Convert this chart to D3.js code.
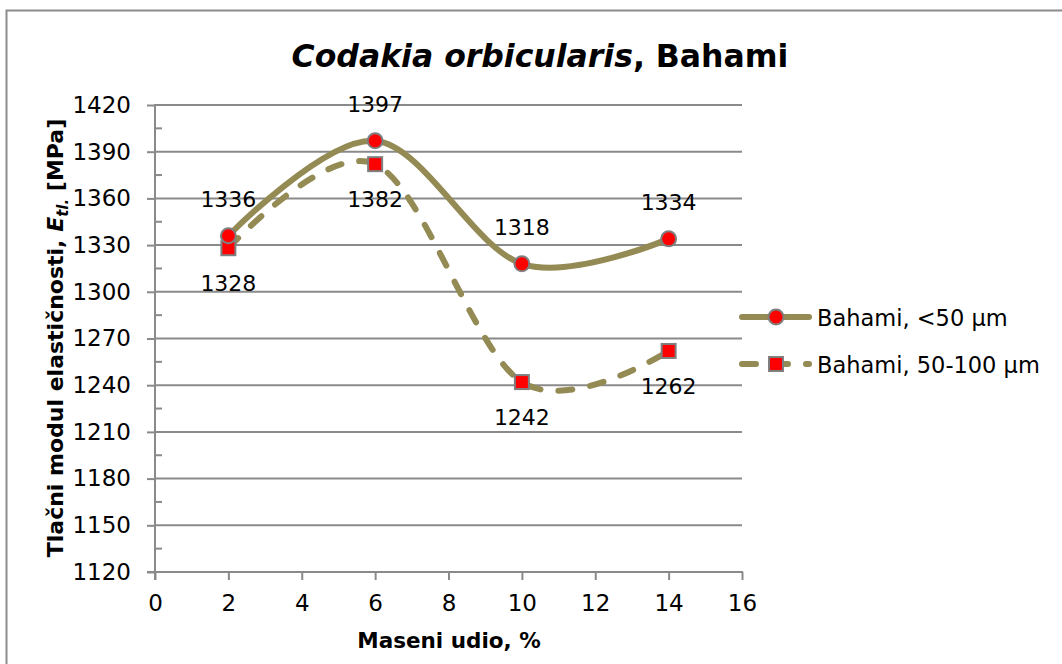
<!DOCTYPE html>
<html>
<head>
<meta charset="utf-8">
<script src="https://cdn.jsdelivr.net/npm/d3@7"></script>
<style>
  html, body { margin: 0; padding: 0; background: #fff; }
  svg { display: block; }
  text { font-family: "DejaVu Sans", sans-serif; fill: #000; }
</style>
</head>
<body>
<svg id="chart" width="1062" height="664"></svg>
<script>
// Mass fraction (%) and compressive modulus (MPa)
const xValues = [2, 6, 10, 14];
const seriesNames = ["Bahami, <50 µm", "Bahami, 50-100 µm"];
const fineValues = [1336, 1397, 1318, 1334];
const coarseValues = [1328, 1382, 1242, 1262];
const xTicks = [0, 2, 4, 6, 8, 10, 12, 14, 16];
const yTicks = [1120, 1150, 1180, 1210, 1240, 1270, 1300, 1330, 1360, 1390, 1420];

const FONT = '"DejaVu Sans", sans-serif';
const lineColor = "#948a54";
const markerFill = "#ff0000";
const markerStroke = "#7f7f7f";
const gridColor = "#8a8a8a";
const dash = "14,18";

const svg = d3.select("#chart");

// Outer chart frame
svg.append("rect")
  .attr("x", 6.5).attr("y", 10.5)
  .attr("width", 1080).attr("height", 700)
  .attr("fill", "none").attr("stroke", "#8c8c8c").attr("stroke-width", 2);

const x = d3.scaleLinear().domain([0, 16]).range([155, 742]);
const y = d3.scaleLinear().domain([1120, 1420]).range([572, 105]);

// Horizontal gridlines
svg.append("g").selectAll("line")
  .data(yTicks.filter(v => v > 1120))
  .join("line")
  .attr("x1", x(0)).attr("x2", x(16))
  .attr("y1", d => y(d)).attr("y2", d => y(d))
  .attr("stroke", gridColor).attr("stroke-width", 2);

// Y axis with outward major ticks
const yAxis = svg.append("g")
  .attr("transform", `translate(${x(0)},0)`)
  .call(d3.axisLeft(y).tickValues(yTicks).tickSize(8).tickPadding(16).tickFormat(d3.format("d")));
yAxis.select(".domain").remove();
yAxis.selectAll(".tick line").attr("stroke", gridColor).attr("stroke-width", 2);
yAxis.selectAll(".tick text").style("font-size", "23px").style("font-family", FONT);

// Minor ticks inside the plot
const minorY = d3.range(1135, 1420, 30);
svg.append("g").selectAll("line")
  .data(minorY)
  .join("line")
  .attr("x1", x(0)).attr("x2", x(0) + 7)
  .attr("y1", d => y(d)).attr("y2", d => y(d))
  .attr("stroke", gridColor).attr("stroke-width", 2);

svg.append("line")
  .attr("x1", x(0)).attr("x2", x(0))
  .attr("y1", y(1420) - 1).attr("y2", y(1120) + 8)
  .attr("stroke", gridColor).attr("stroke-width", 2);

// X axis
const xAxis = svg.append("g")
  .attr("transform", `translate(0,${y(1120)})`)
  .call(d3.axisBottom(x).tickValues(xTicks).tickSize(8).tickPadding(15).tickFormat(d3.format("d")));
xAxis.select(".domain").attr("stroke", gridColor).attr("stroke-width", 2)
  .attr("d", `M${x(0) - 8},0H${x(16) + 1}`);
xAxis.selectAll(".tick line").attr("stroke", gridColor).attr("stroke-width", 2);
xAxis.selectAll(".tick text").style("font-size", "23px").style("font-family", FONT);

// Smoothed series curves
const line = d3.line()
  .x(d => x(d[0])).y(d => y(d[1]))
  .curve(d3.curveCatmullRom.alpha(0));

const fine = xValues.map((v, i) => [v, fineValues[i]]);
const coarse = xValues.map((v, i) => [v, coarseValues[i]]);

svg.append("path").datum(coarse)
  .attr("d", line).attr("fill", "none")
  .attr("stroke", lineColor).attr("stroke-width", 6)
  .attr("stroke-linecap", "round")
  .attr("stroke-dasharray", dash);

svg.append("path").datum(fine)
  .attr("d", line).attr("fill", "none")
  .attr("stroke", lineColor).attr("stroke-width", 6)
  .attr("stroke-linecap", "round");

// Markers
svg.append("g").selectAll("rect")
  .data(coarse)
  .join("rect")
  .attr("x", d => x(d[0]) - 7).attr("y", d => y(d[1]) - 7)
  .attr("width", 14).attr("height", 14)
  .attr("fill", markerFill).attr("stroke", markerStroke).attr("stroke-width", 2);

svg.append("g").selectAll("circle")
  .data(fine)
  .join("circle")
  .attr("cx", d => x(d[0])).attr("cy", d => y(d[1]))
  .attr("r", 7.5)
  .attr("fill", markerFill).attr("stroke", markerStroke).attr("stroke-width", 2);

// Value labels: fine fraction above, coarse fraction below
svg.append("g").selectAll("text")
  .data(fine)
  .join("text")
  .attr("x", d => x(d[0])).attr("y", d => y(d[1]) - 29)
  .attr("text-anchor", "middle").style("font-size", "22px")
  .text(d => d[1]);

svg.append("g").selectAll("text")
  .data(coarse)
  .join("text")
  .attr("x", d => x(d[0])).attr("y", d => y(d[1]) + 43)
  .attr("text-anchor", "middle").style("font-size", "22px")
  .text(d => d[1]);

// Title
const title = svg.append("text")
  .attr("x", 540).attr("y", 67)
  .attr("text-anchor", "middle")
  .style("font-size", "31.5px").style("font-weight", "bold");
title.append("tspan").style("font-style", "italic").text("Codakia orbicularis");
title.append("tspan").text(", Bahami");

// Axis titles
svg.append("text")
  .attr("x", 449).attr("y", 648)
  .attr("text-anchor", "middle")
  .style("font-size", "21.5px").style("font-weight", "bold")
  .text("Maseni udio, %");

const yt = svg.append("text")
  .attr("transform", "translate(63,338) rotate(-90)")
  .attr("text-anchor", "middle")
  .style("font-size", "22px").style("font-weight", "bold");
yt.append("tspan").text("Tlačni modul elastičnosti, ");
yt.append("tspan").style("font-style", "italic").text("E");
yt.append("tspan").style("font-style", "italic").style("font-size", "15px").attr("dy", 5).text("tl.");
yt.append("tspan").attr("dy", -5).text(" [MPa]");

// Legend
const legendY = [317, 364];
const legend = svg.append("g");
legend.append("line")
  .attr("x1", 742).attr("x2", 809).attr("y1", legendY[0]).attr("y2", legendY[0])
  .attr("stroke", lineColor).attr("stroke-width", 6).attr("stroke-linecap", "round");
legend.append("circle")
  .attr("cx", 776).attr("cy", legendY[0]).attr("r", 7.5)
  .attr("fill", markerFill).attr("stroke", markerStroke).attr("stroke-width", 2);
legend.append("line")
  .attr("x1", 742).attr("x2", 809).attr("y1", legendY[1]).attr("y2", legendY[1])
  .attr("stroke", lineColor).attr("stroke-width", 6).attr("stroke-linecap", "round")
  .attr("stroke-dasharray", dash);
legend.append("rect")
  .attr("x", 769).attr("y", legendY[1] - 7).attr("width", 14).attr("height", 14)
  .attr("fill", markerFill).attr("stroke", markerStroke).attr("stroke-width", 2);
legend.selectAll("text.lab")
  .data(seriesNames)
  .join("text")
  .attr("class", "lab")
  .attr("x", 817).attr("y", (d, i) => legendY[i] + 9)
  .style("font-size", "22.5px")
  .text(d => d);
</script>
</body>
</html>
